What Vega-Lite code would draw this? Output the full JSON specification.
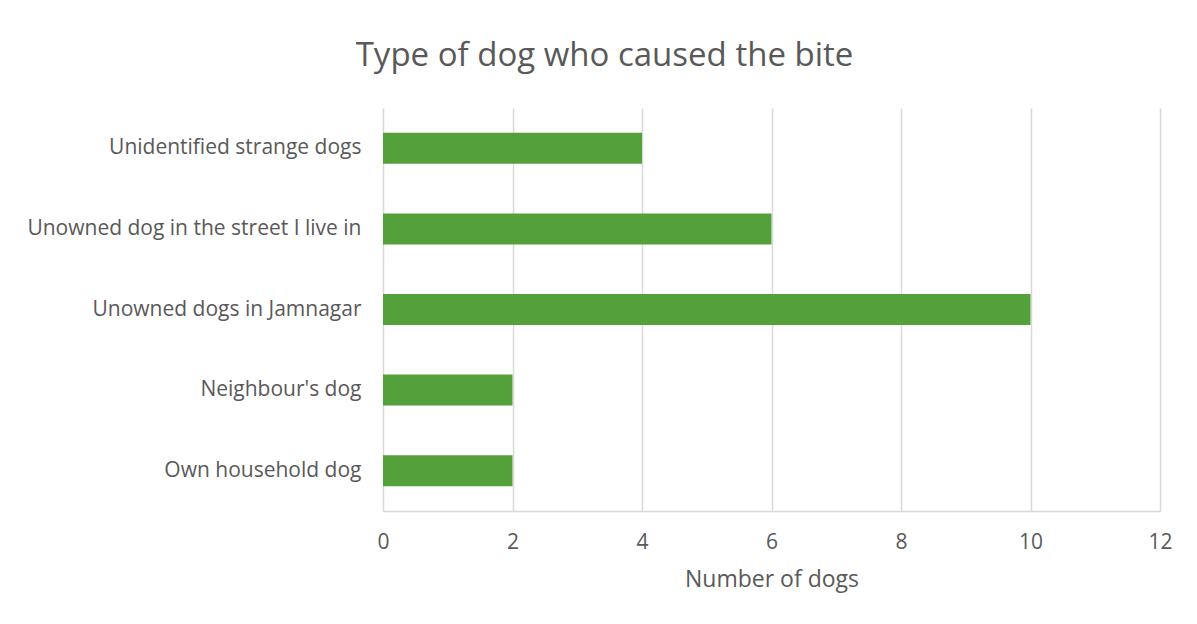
{
  "$schema": "https://vega.github.io/schema/vega-lite/v6.json",
  "autosize": {"type": "none"},
  "padding": {"left": 383, "top": 108, "right": 37, "bottom": 113},
  "width": 777,
  "height": 403,
  "background": "white",
  "title": {
    "text": "Type of dog who caused the bite",
    "font": "Open Sans",
    "fontSize": 33,
    "fontWeight": "normal",
    "color": "#595959",
    "anchor": "middle",
    "dx": -167,
    "offset": 35
  },
  "data": {
    "values": [
      {"type": "Unidentified strange dogs", "dogs": 4},
      {"type": "Unowned dog in the street I live in", "dogs": 6},
      {"type": "Unowned dogs in Jamnagar", "dogs": 10},
      {"type": "Neighbour's dog", "dogs": 2},
      {"type": "Own household dog", "dogs": 2}
    ]
  },
  "mark": {"type": "bar", "color": "#54a03a"},
  "encoding": {
    "y": {
      "field": "type",
      "type": "nominal",
      "sort": null,
      "scale": {"paddingInner": 0.615, "paddingOuter": 0.3075},
      "axis": {
        "title": null,
        "ticks": false,
        "domain": false,
        "labelPadding": 22,
        "labelFont": "Open Sans",
        "labelFontSize": 21,
        "labelColor": "#595959",
        "labelLimit": 400
      }
    },
    "x": {
      "field": "dogs",
      "type": "quantitative",
      "scale": {"domain": [0, 12], "nice": false},
      "axis": {
        "values": [0, 2, 4, 6, 8, 10, 12],
        "title": "Number of dogs",
        "titleFont": "Open Sans",
        "titleFontSize": 23,
        "titleFontWeight": "normal",
        "titleColor": "#595959",
        "titlePadding": 16,
        "ticks": false,
        "labelFlush": false,
        "labelPadding": 20,
        "labelFont": "Open Sans",
        "labelFontSize": 21,
        "labelColor": "#595959",
        "domainColor": "#d9d9d9",
        "domainWidth": 1.5,
        "grid": true,
        "gridColor": "#d9d9d9",
        "gridWidth": 1.5
      }
    }
  },
  "config": {"view": {"stroke": null}}
}
